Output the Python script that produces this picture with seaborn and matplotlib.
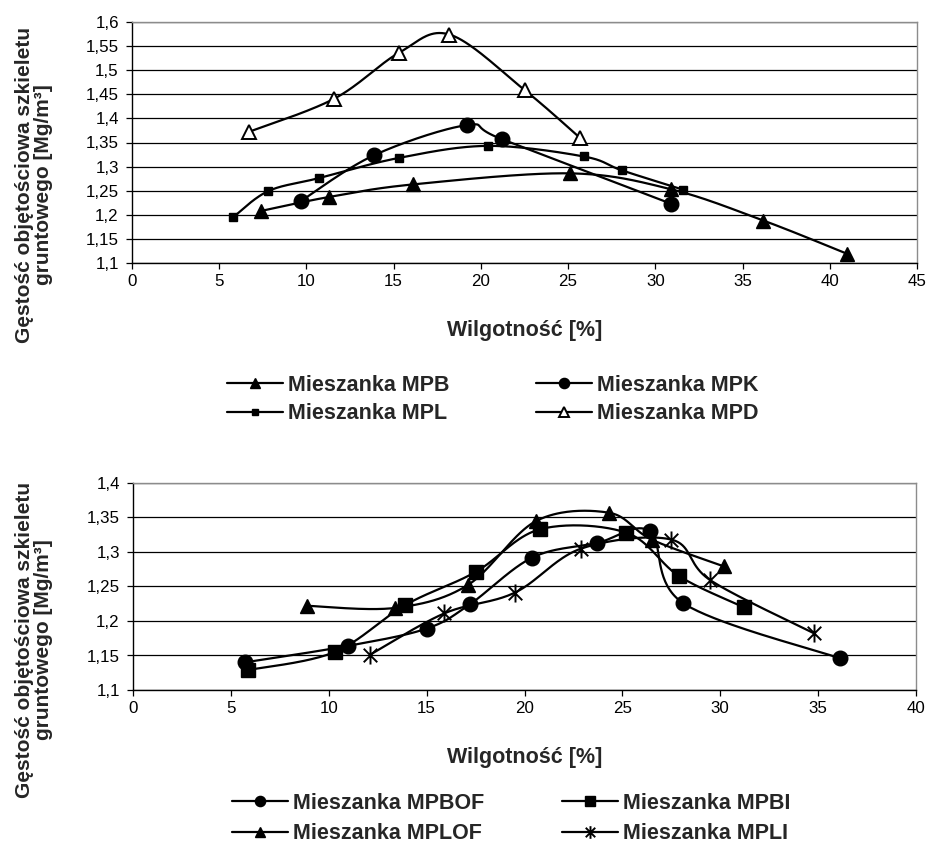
import numpy as np
import pandas as pd
import matplotlib
matplotlib.use("Agg")
import matplotlib.pyplot as plt
from matplotlib.lines import Line2D
from matplotlib.path import Path
from matplotlib.ticker import FuncFormatter, MultipleLocator
import seaborn as sns

# ---------------- data ----------------
top_names = ["Mieszanka MPB", "Mieszanka MPK", "Mieszanka MPL", "Mieszanka MPD"]
mpb_x = [7.4, 11.3, 16.1, 25.1, 30.9, 36.2, 41.0]
mpb_y = [1.208, 1.237, 1.263, 1.286, 1.253, 1.188, 1.119]
mpk_x = [9.7, 13.9, 19.2, 21.2, 30.9]
mpk_y = [1.229, 1.324, 1.386, 1.357, 1.223]
mpl_x = [5.8, 7.8, 10.7, 15.3, 20.4, 25.9, 28.1, 31.6]
mpl_y = [1.195, 1.249, 1.276, 1.318, 1.343, 1.321, 1.292, 1.252]
mpd_x = [6.7, 11.6, 15.3, 18.2, 22.5, 25.7]
mpd_y = [1.372, 1.441, 1.536, 1.574, 1.459, 1.359]

bot_names = ["Mieszanka MPBOF", "Mieszanka MPBI", "Mieszanka MPLOF", "Mieszanka MPLI"]
mpbof_x = [5.7, 11.0, 15.0, 17.2, 20.4, 23.7, 26.4, 28.1, 36.1]
mpbof_y = [1.140, 1.164, 1.189, 1.224, 1.292, 1.313, 1.330, 1.226, 1.146]
mpbi_x = [5.9, 10.3, 13.9, 17.5, 20.8, 25.2, 27.9, 31.2]
mpbi_y = [1.129, 1.155, 1.223, 1.271, 1.333, 1.328, 1.265, 1.220]
mplof_x = [8.9, 13.4, 17.1, 20.6, 24.3, 26.5, 30.2]
mplof_y = [1.222, 1.219, 1.252, 1.345, 1.357, 1.318, 1.279]
mpli_x = [12.1, 15.9, 19.5, 22.9, 27.5, 29.5, 34.8]
mpli_y = [1.151, 1.211, 1.241, 1.305, 1.318, 1.259, 1.182]

x_label = "Wilgotność [%]"
y_label = "Gęstość objętościowa szkieletu\ngruntowego [Mg/m³]"

# ---------------- style ----------------
sns.set_theme(style="white")
plt.rcParams["font.family"] = ["Liberation Sans", "DejaVu Sans"]

W, H = 931, 849
fig = plt.figure(figsize=(W / 100, H / 100), dpi=100)

asterisk = Path([(0, -1), (0, 1), (-0.75, -0.75), (0.75, 0.75), (-0.75, 0.75), (0.75, -0.75)],
                [Path.MOVETO, Path.LINETO, Path.MOVETO, Path.LINETO, Path.MOVETO, Path.LINETO])


def smooth(x, y, sx, sy, n=40):
    """Excel-like smoothed line (Bezier through the points), computed in pixel space."""
    P = np.column_stack([np.asarray(x) * sx, np.asarray(y) * sy])
    out = [P[0]]
    t = np.linspace(0, 1, n)[1:, None]
    for i in range(len(P) - 1):
        p0 = P[i - 1] if i > 0 else P[i]
        p1, p2 = P[i], P[i + 1]
        p3 = P[i + 2] if i + 2 < len(P) else P[i + 1]
        c1 = p1 + (p2 - p0) / 6
        c2 = p2 - (p3 - p1) / 6
        B = (1 - t) ** 3 * p1 + 3 * (1 - t) ** 2 * t * c1 + 3 * (1 - t) * t ** 2 * c2 + t ** 3 * p2
        out.extend(B)
    out = np.array(out)
    return out[:, 0] / sx, out[:, 1] / sy


def fmt(v, pos):
    s = f"{v:.2f}".rstrip("0").rstrip(".")
    return s.replace(".", ",")


def setup_axes(ax, xmax, ymin, ymax):
    ax.set_xlim(0, xmax)
    ax.set_ylim(ymin, ymax)
    ax.xaxis.set_major_locator(MultipleLocator(5))
    ax.yaxis.set_major_locator(MultipleLocator(0.05))
    ax.yaxis.set_major_formatter(FuncFormatter(fmt))
    ax.xaxis.set_major_formatter(FuncFormatter(lambda v, p: f"{v:.0f}"))
    ax.set_facecolor("white")
    ax.yaxis.grid(True, color="black", lw=0.9)
    ax.xaxis.grid(False)
    ax.set_axisbelow(True)
    for s in ["left", "bottom"]:
        ax.spines[s].set_color("black")
        ax.spines[s].set_linewidth(1.0)
    for s in ["top", "right"]:
        ax.spines[s].set_color("#8c8c8c")
        ax.spines[s].set_linewidth(1.0)
    ax.tick_params(axis="both", which="major", direction="out", length=4.5, width=0.9,
                   colors="black", labelsize=12.2, bottom=True, left=True)
    ax.tick_params(axis="x", pad=3.5)
    ax.tick_params(axis="y", pad=5)
    ax.set_xlabel(x_label, fontsize=15.5, fontweight="bold", labelpad=22)
    ax.set_ylabel("")


def draw_series(ax, x, y, name, sx, sy, marker, ms, mfc="black", mew=1.0):
    cx, cy = smooth(x, y, sx, sy)
    sns.lineplot(x=cx, y=cy, ax=ax, sort=False, estimator=None, color="black", lw=1.6)
    sns.lineplot(x=x, y=y, ax=ax, sort=False, estimator=None, color="black", linestyle="",
                 marker=marker, markersize=ms, markerfacecolor=mfc, markeredgecolor="black",
                 markeredgewidth=mew)
    return Line2D([], [], color="black", lw=1.6, marker=marker, markersize=ms * 0.7,
                  markerfacecolor=mfc, markeredgecolor="black", markeredgewidth=mew)


leg_base = dict(frameon=False, prop={"weight": "bold", "size": 15.5}, handlelength=2.6,
                handletextpad=0.25, borderpad=0, borderaxespad=0, loc="upper left", ncol=2)

# ---------------- top chart ----------------
ax1 = fig.add_axes([132 / W, 1 - 263 / H, 785 / W, 241 / H])
setup_axes(ax1, 45, 1.1, 1.6)
sx1, sy1 = 785 / 45, 241 / 0.5
h_mpb = draw_series(ax1, mpb_x, mpb_y, top_names[0], sx1, sy1, "^", 10)
h_mpk = draw_series(ax1, mpk_x, mpk_y, top_names[1], sx1, sy1, "o", 10.5)
h_mpl = draw_series(ax1, mpl_x, mpl_y, top_names[2], sx1, sy1, "s", 5.5)
h_mpd = draw_series(ax1, mpd_x, mpd_y, top_names[3], sx1, sy1, "^", 10, mfc="white", mew=1.4)

fig.legend([h_mpb, h_mpl, h_mpk, h_mpd],
           [top_names[0], top_names[2], top_names[1], top_names[3]],
           bbox_to_anchor=(227 / W, 1 - 375 / H), columnspacing=4.0, labelspacing=0.34,
           **leg_base)

# ---------------- bottom chart ----------------
ax2 = fig.add_axes([133 / W, 1 - 690 / H, 783 / W, 207 / H])
setup_axes(ax2, 40, 1.1, 1.4)
sx2, sy2 = 783 / 40, 207 / 0.3
h_bof = draw_series(ax2, mpbof_x, mpbof_y, bot_names[0], sx2, sy2, "o", 10.5)
h_bi = draw_series(ax2, mpbi_x, mpbi_y, bot_names[1], sx2, sy2, "s", 9.5)
h_lof = draw_series(ax2, mplof_x, mplof_y, bot_names[2], sx2, sy2, "^", 10)
h_li = draw_series(ax2, mpli_x, mpli_y, bot_names[3], sx2, sy2, asterisk, 13, mew=1.4)

fig.legend([h_bof, h_lof, h_bi, h_li],
           [bot_names[0], bot_names[2], bot_names[1], bot_names[3]],
           bbox_to_anchor=(232 / W, 1 - 793 / H), columnspacing=3.6, labelspacing=0.42,
           **leg_base)

# y labels
for yc in (185, 640):
    fig.text(34 / W, 1 - yc / H, y_label, rotation=90, ha="center", va="center",
             multialignment="center", fontsize=15, fontweight="bold", linespacing=1.0)

fig.savefig("out.png", dpi=100, facecolor="white")
